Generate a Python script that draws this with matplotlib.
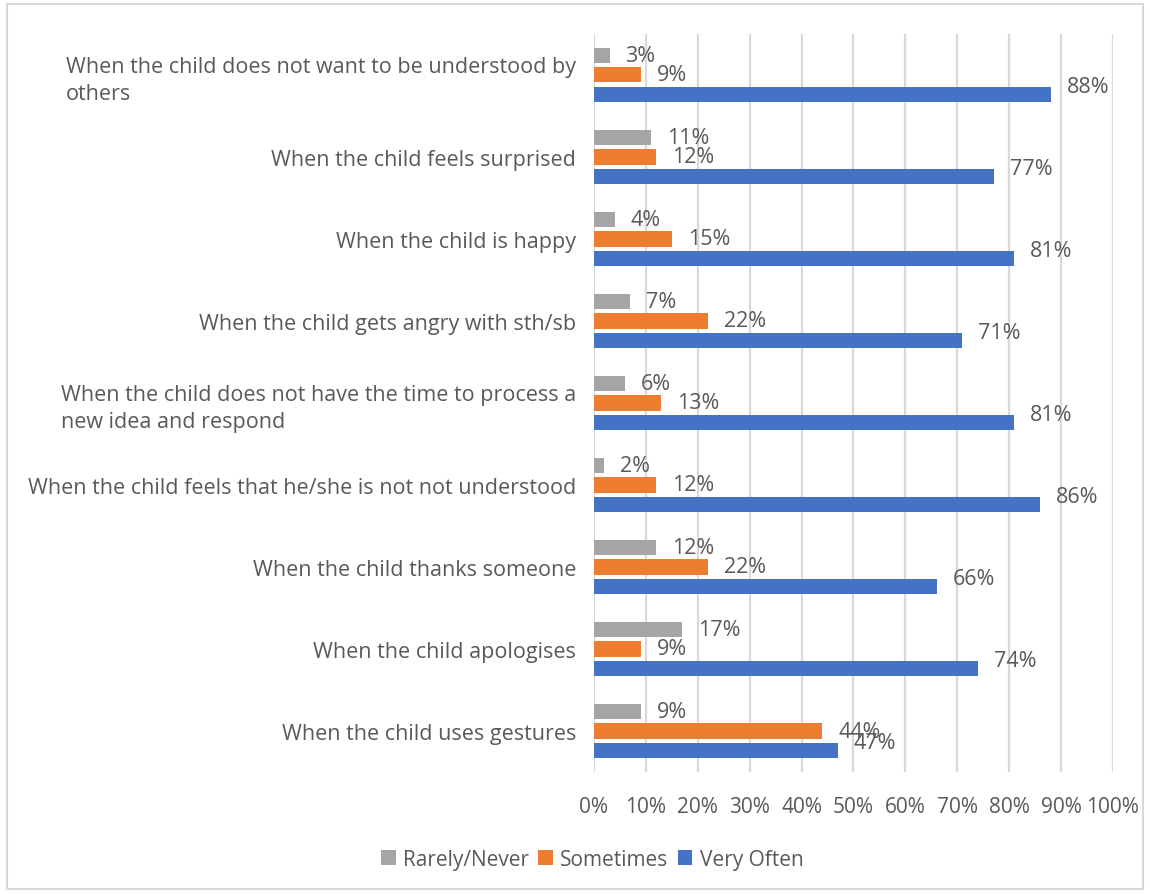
import matplotlib
matplotlib.use("Agg")
import matplotlib.pyplot as plt
import numpy as np
from matplotlib.patches import Rectangle
from matplotlib.ticker import FuncFormatter, MultipleLocator

plt.rcParams['font.family'] = ['Open Sans', 'DejaVu Sans']

categories = [
    "When the child does not want to be understood by\nothers",
    "When the child feels surprised",
    "When the child is happy",
    "When the child gets angry with sth/sb",
    "When the child does not have the time to process a\nnew idea and respond",
    "When the child feels that he/she is not not understood",
    "When the child thanks someone",
    "When the child apologises",
    "When the child uses gestures",
]
rarely_never = [3, 11, 4, 7, 6, 2, 12, 17, 9]
sometimes = [9, 12, 15, 22, 13, 12, 22, 9, 44]
very_often = [88, 77, 81, 71, 81, 86, 66, 74, 47]

series = [
    ("Rarely/Never", rarely_never, "#A5A5A5"),
    ("Sometimes", sometimes, "#ED7D31"),
    ("Very Often", very_often, "#4472C4"),
]

text_color = "#595959"
grid_color = "#D9D9D9"

fig = plt.figure(figsize=(11.5, 8.95), dpi=100)
ax = fig.add_axes([0.5165, 0.1363, 0.4513, 0.8247])

n = len(categories)
y = np.arange(n)
step = 0.24
height = 0.185
label_dy = [0, 0, 6]  # points; Very Often labels sit a little higher

for i, (name, vals, color) in enumerate(series):
    pos = y + (i - 1) * step
    ax.barh(pos, vals, height=height, color=color, label=name, zorder=3)
    for p, v in zip(pos, vals):
        ax.annotate(f"{v}%", xy=(v, p), xytext=(11.5, label_dy[i]),
                    textcoords="offset points", ha="left", va="center",
                    fontsize=15.5, color=text_color, zorder=4)

ax.set_ylim(n - 0.5, -0.5)
ax.set_xlim(0, 100)
ax.xaxis.set_major_locator(MultipleLocator(10))
ax.xaxis.set_major_formatter(FuncFormatter(lambda v, _: f"{int(round(v))}%"))
ax.set_yticks(y)
ax.set_yticklabels(categories, fontsize=15.5, color=text_color, linespacing=1.35)
for lbl in ax.get_yticklabels():
    lbl.set_horizontalalignment("right")
    lbl.set_multialignment("left")

ax.tick_params(axis="x", length=0, labelsize=15, labelcolor=text_color, pad=17)
ax.tick_params(axis="y", length=0, pad=13)
ax.grid(axis="x", color=grid_color, linewidth=1.6, zorder=0)
for s in ax.spines.values():
    s.set_visible(False)

leg = fig.legend(loc="center", bbox_to_anchor=(0.515, 0.039), ncol=3, frameon=False,
                 fontsize=15, handlelength=0.7, handleheight=0.7, handletextpad=0.35,
                 columnspacing=0.45)
for t in leg.get_texts():
    t.set_color(text_color)

fig.patches.append(Rectangle((0.006, 0.006), 0.988, 0.988, transform=fig.transFigure,
                             fill=False, edgecolor="#D9D9D9", linewidth=1.5))

fig.savefig("out.png", dpi=100, facecolor="white")
